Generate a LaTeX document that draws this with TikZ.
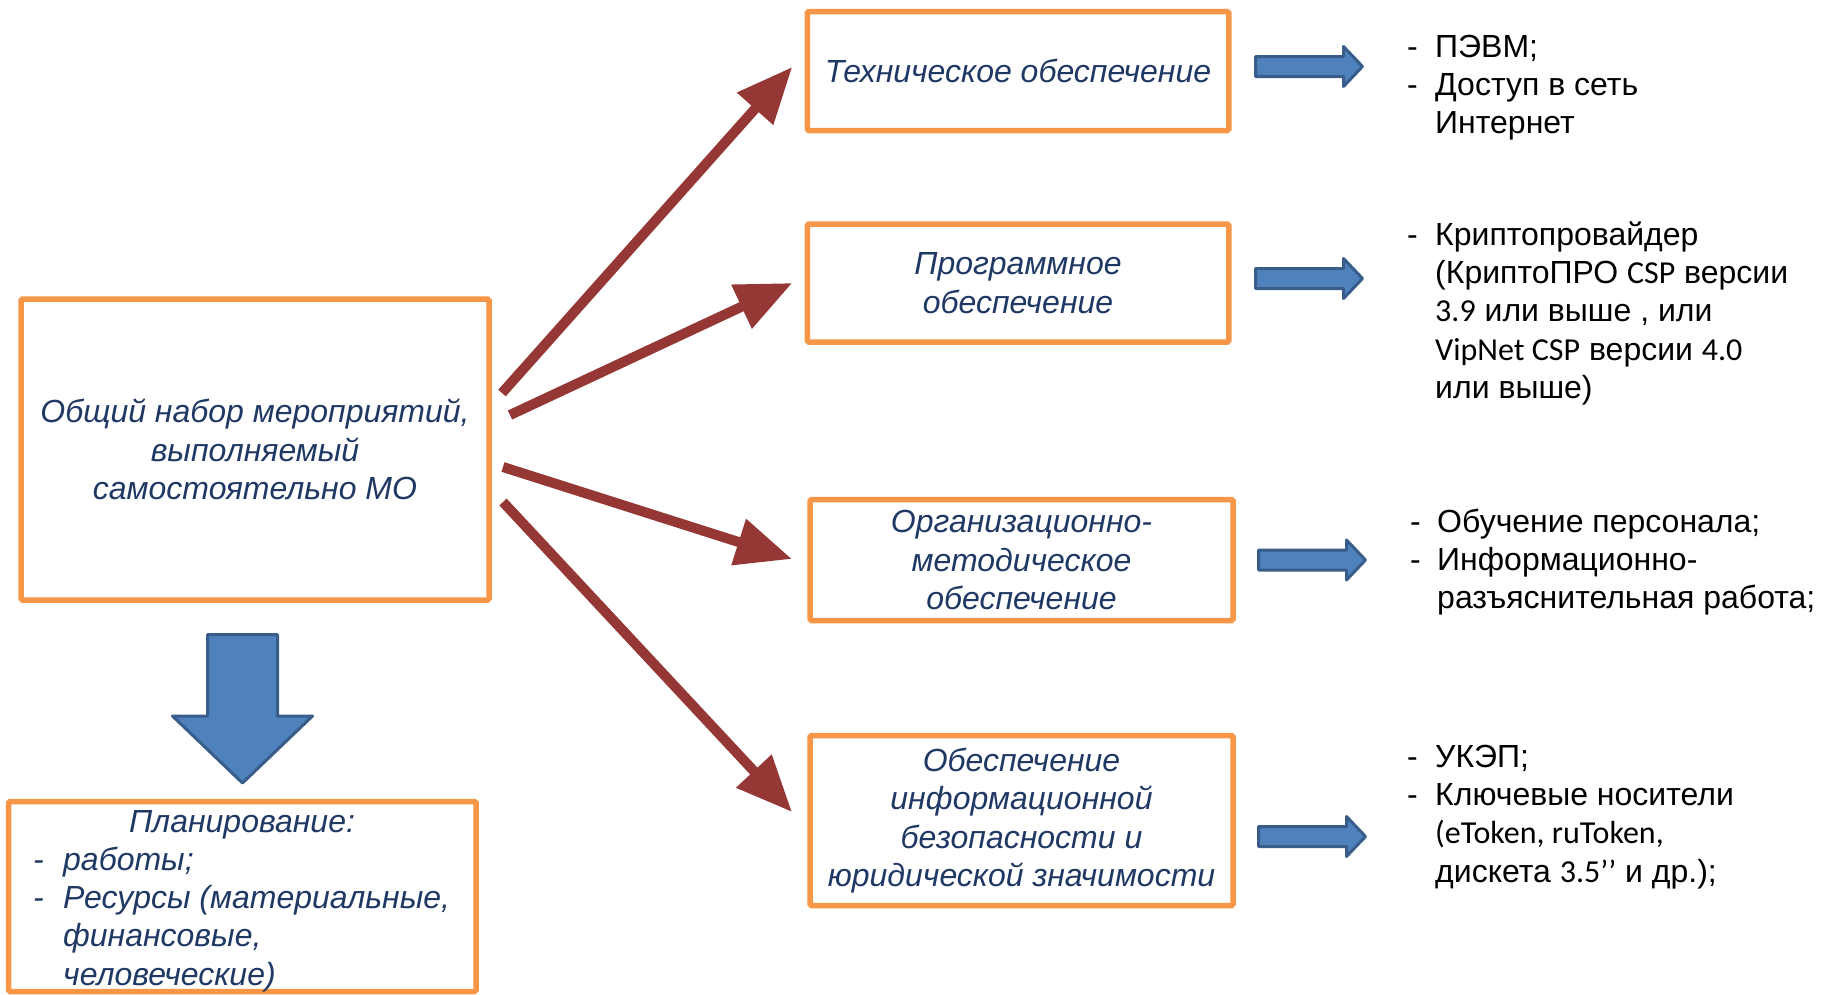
\documentclass[tikz,border=0pt]{standalone}
\usepackage{fontspec}
\setmainfont{Liberation Sans}
\newfontfamily\calfont{Carlito}
\usetikzlibrary{arrows.meta,calc}
\definecolor{orng}{RGB}{247,150,70}
\definecolor{navy}{RGB}{31,56,100}
\definecolor{redarr}{RGB}{149,55,53}
\definecolor{bfill}{RGB}{79,129,189}
\definecolor{bdraw}{RGB}{56,93,138}
\begin{document}
\begin{tikzpicture}[x=1pt,y=-1pt,
  obox/.style={draw=orng, fill=white, line width=5.5pt, rounded corners=1.5pt, inner sep=0pt, outer sep=0pt,
    align=center, text=navy, font=\fontsize{32}{38.4}\selectfont\itshape},
  redarrow/.style={draw=redarr, line width=10pt, -{Triangle[length=56pt,width=46pt]}},
  blockarrow/.style={fill=bfill, draw=bdraw, line width=3pt, line join=round},
  rarrow/.pic={\draw[blockarrow] (0,-10) -- (88,-10) -- (88,-20) -- (107,0) -- (88,20) -- (88,10) -- (0,10) -- cycle;},
  ltxt/.style={anchor=base west, inner sep=0pt, font=\fontsize{32}{38.4}\selectfont},
  ptxt/.style={anchor=base west, inner sep=0pt, text=navy, font=\fontsize{32}{38.4}\selectfont\itshape},
]
\useasboundingbox (0,0) rectangle (1825,994);

% boxes
\node[obox, minimum width=468pt, minimum height=301pt] (main) at (255,449.5)
  {Общий набор мероприятий,\\выполняемый\\самостоятельно МО};
\node[obox, minimum width=467.5pt, minimum height=190pt] (plan) at (242.25,896.5) {};
\node[obox, minimum width=421.5pt, minimum height=119pt] (tech) at (1018,71) {Техническое обеспечение};
\node[obox, minimum width=421.5pt, minimum height=118pt] (prog) at (1018,283) {Программное\\обеспечение};
\node[obox, minimum width=423pt, minimum height=121pt] (org) at (1021.5,560)
  {Организационно-\\методическое\\обеспечение};
\node[obox, minimum width=423pt, minimum height=170pt] (sec) at (1021.5,820.5)
  {Обеспечение\\информационной\\безопасности и\\юридической значимости};

% planning text
\node[anchor=base, inner sep=0pt, text=navy, font=\fontsize{32}{38.4}\selectfont\itshape] (pt0) at (242,832) {Планирование:};
\node[ptxt] (pd1) at (33,870) {-};
\node[ptxt] (pt1) at (63,870) {работы;};
\node[ptxt] (pd2) at (33,908.4) {-};
\node[ptxt] (pt2) at (63,908.4) {Ресурсы (материальные,};
\node[ptxt] (pt3) at (63,946.8) {финансовые,};
\node[ptxt] (pt4) at (63,985.2) {человеческие)};

% red arrows
\draw[redarrow] ([shift={(13,94)}]main.north east) -- ([shift={(-15,-4)}]tech.west);
\draw[redarrow] ([shift={(21,116)}]main.north east) -- ([shift={(-15,0)}]prog.west);
\draw[redarrow] ([shift={(14,168)}]main.north east) -- ([shift={(-18,-1)}]org.west);
\draw[redarrow] ([shift={(14,203)}]main.north east) -- ([shift={(-18,-8.5)}]sec.west);

% blue arrows
\draw[blockarrow] (207.5,634.5) -- (277.5,634.5) -- (277.5,716) -- (312.5,716) -- (242.5,783)
  -- (172.5,716) -- (207.5,716) -- cycle;
\pic at (1255.5,66.5) {rarrow};
\pic at (1255.5,278.5) {rarrow};
\pic at (1258.5,560) {rarrow};
\pic at (1258.5,836.5) {rarrow};

% right lists
\node[ltxt] (d1a) at (1407,57) {-};
\node[ltxt] (t1a) at (1435,57) {ПЭВМ;};
\node[ltxt] (d1b) at (1407,95.4) {-};
\node[ltxt] (t1b) at (1435,95.4) {Доступ в сеть};
\node[ltxt] (t1c) at (1435,133.8) {Интернет};

\node[ltxt] (d2a) at (1407,245) {-};
\node[ltxt] (t2a) at (1435,245) {Криптопровайдер};
\node[ltxt] (t2b) at (1435,283.4) {(КриптоПРО {\calfont CSP} версии};
\node[ltxt] (t2c) at (1435,321.8) {{\calfont 3.9} или выше , или};
\node[ltxt] (t2d) at (1435,360.2) {{\calfont VipNet CSP} версии {\calfont 4.0}};
\node[ltxt] (t2e) at (1435,398.6) {или выше)};

\node[ltxt] (d3a) at (1410,532) {-};
\node[ltxt] (t3a) at (1437,532) {Обучение персонала;};
\node[ltxt] (d3b) at (1410,570.4) {-};
\node[ltxt] (t3b) at (1437,570.4) {Информационно-};
\node[ltxt] (t3c) at (1437,608.8) {разъяснительная работа;};

\node[ltxt] (d4a) at (1407,767) {-};
\node[ltxt] (t4a) at (1435,767) {УКЭП;};
\node[ltxt] (d4b) at (1407,805.4) {-};
\node[ltxt] (t4b) at (1435,805.4) {Ключевые носители};
\node[ltxt] (t4c) at (1435,843.8) {{\calfont (eToken, ruToken,}};
\node[ltxt] (t4d) at (1435,882.2) {дискета {\calfont 3.5’’} и др.);};
\end{tikzpicture}
\end{document}
